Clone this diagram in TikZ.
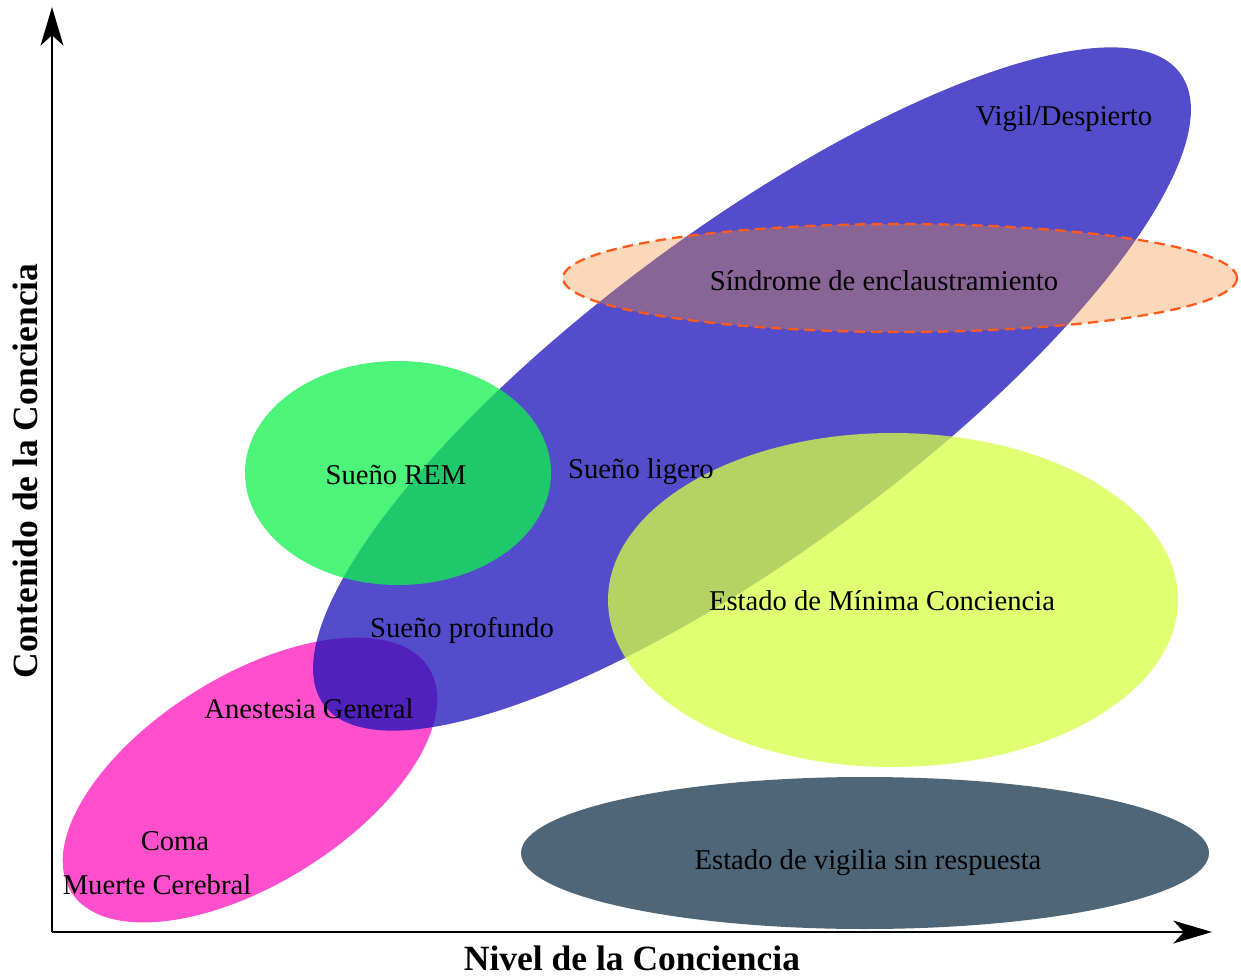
\documentclass[tikz,border=0pt]{standalone}
\usepackage{fontspec}
\setmainfont{Liberation Serif}
\usetikzlibrary{arrows.meta,positioning}
\definecolor{awakeblue}{RGB}{25,17,185}
\definecolor{remgreen}{RGB}{16,241,77}
\definecolor{mcsyellow}{RGB}{215,255,68}
\definecolor{lockedin}{RGB}{240,143,54}
\definecolor{lockedline}{RGB}{255,90,30}
\definecolor{comapink}{RGB}{255,79,204}
\definecolor{vegslate}{RGB}{78,102,119}

\begin{document}
\begin{tikzpicture}[x=0.02cm, y=-0.02cm,
  every node/.style={font=\fontsize{16.3}{19}\selectfont, inner sep=0pt},
  axis/.style={line width=1.2pt, -{Stealth[length=22pt, width=13pt, inset=6pt]}},
  axislabel/.style={font=\fontsize{20.2}{24}\selectfont\bfseries}]
  \useasboundingbox (0,0) rectangle (1241,977);

  % States (ellipses)
  \fill[comapink, rotate around={32:(250,780)}] (250,780) ellipse (211 and 104);
  \fill[awakeblue, fill opacity=0.75, rotate around={36.4:(752,389)}] (752,389) ellipse (532 and 162);
  \fill[remgreen, fill opacity=0.75] (398,473) ellipse (153 and 112);
  \fill[mcsyellow, fill opacity=0.75] (893,600) ellipse (285 and 167);
  \filldraw[fill=lockedin, fill opacity=0.35, draw=lockedline, line width=1.3pt,
    dash pattern=on 6pt off 3.5pt] (900,278) ellipse (337 and 54);
  \fill[vegslate] (865,853) ellipse (344 and 76);

  % Axes
  \coordinate (origin) at (52,932);
  \coordinate (ytip) at (52,7);
  \coordinate (xtip) at (1212,932);
  \draw[axis] (origin) -- (ytip);
  \draw[axis] (origin) -- (xtip);
  \node[axislabel] (xlabel) at (632,958) {Nivel de la Conciencia};
  \node[axislabel, rotate=90] (ylabel) at (25,471) {Contenido de la Conciencia};

  % Labels
  \node (vigil) at (1064,119) {Vigil/Despierto};
  \node (locked) at (884,281) {Síndrome de enclaustramiento};
  \node (rem) at (396,475) {Sueño REM};
  \node (light) at (641,472) {Sueño ligero};
  \node (mcs) at (882,601) {Estado de Mínima Conciencia};
  \node (deep) at (462,630) {Sueño profundo};
  \node (anest) at (309,709) {Anestesia General};
  \node (coma) at (175,841) {Coma};
  \node (death) at (157,885) {Muerte Cerebral};
  \node (uws) at (868,863) {Estado de vigilia sin respuesta};
\end{tikzpicture}
\end{document}
